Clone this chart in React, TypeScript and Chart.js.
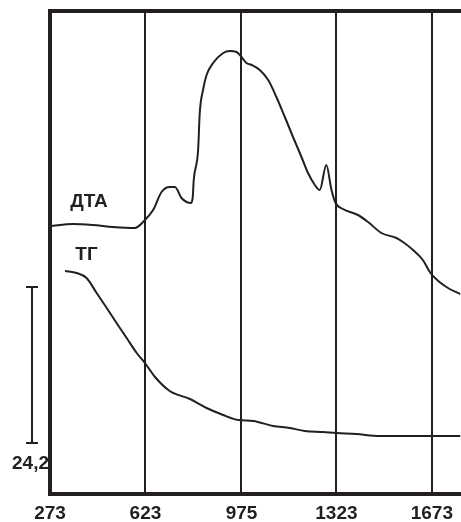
import React, { useEffect, useRef } from "react";
import { Chart, registerables } from "chart.js";

Chart.register(...registerables);

const INK = "#231f20";
const FONT = "'Liberation Sans', Arial, sans-serif";

// Temperature axis (K)
const xTicks = [273, 623, 975, 1323, 1673];
const xMin = 273;
const xMax = 1778;

// DTA curve (relative units)
const dtaT = [273, 357, 430, 504, 584, 621, 651, 682, 712, 731, 755, 774, 789, 796, 800, 816, 822, 834, 847, 871, 908, 932, 957, 975, 993, 1012, 1042, 1073, 1103, 1134, 1164, 1195, 1219, 1244, 1262, 1286, 1305, 1320, 1347, 1402, 1439, 1488, 1543, 1567, 1604, 1640, 1668, 1701, 1738, 1778];
const dtaV = [268, 270, 269, 267, 266, 274, 284, 302, 307, 307, 296, 292, 291, 296, 314, 344, 381, 404, 419, 431, 441, 443, 442, 437, 431, 429, 424, 414, 397, 377, 357, 337, 321, 309, 304, 329, 304, 291, 285, 279, 272, 261, 256, 252, 244, 234, 221, 212, 205, 200];

// TG curve (relative units)
const tgT = [328, 371, 407, 444, 481, 517, 554, 591, 621, 658, 712, 786, 847, 908, 963, 1018, 1091, 1152, 1207, 1274, 1323, 1396, 1482, 1579, 1671, 1778];
const tgV = [223, 221, 216, 201, 186, 171, 156, 141, 131, 117, 103, 95, 86, 79, 74, 73, 68, 66, 63, 62, 61, 60, 58, 58, 58, 58];

const yMin = 0;
const yMax = 483;

// Scale bar for TG (24,2)
const scaleBarRange = [51, 207];
const scaleBarLabel = "24,2";

// Curve labels and their anchor (T, value)
const seriesNames = ["ДТА", "ТГ"];
const labelT = [416, 407];
const labelV = [292, 239];

const toPoints = (xs: number[], ys: number[]) => xs.map((x, i) => ({ x, y: ys[i] }));

const decor = {
  id: "decor",
  afterDraw(chart: any) {
    const { ctx, chartArea: a, scales } = chart;
    const ys = scales.y;
    const xs = scales.x;
    ctx.save();
    // frame: top, left, bottom
    ctx.strokeStyle = INK;
    ctx.lineWidth = 4;
    ctx.lineJoin = "miter";
    ctx.beginPath();
    ctx.moveTo(a.right + 5, a.top);
    ctx.lineTo(a.left, a.top);
    ctx.lineTo(a.left, a.bottom);
    ctx.lineTo(a.right + 5, a.bottom);
    ctx.stroke();

    // scale bar
    const bx = a.left - 18;
    const y1 = ys.getPixelForValue(scaleBarRange[1]);
    const y0 = ys.getPixelForValue(scaleBarRange[0]);
    ctx.lineWidth = 2;
    ctx.beginPath();
    ctx.moveTo(bx, y1);
    ctx.lineTo(bx, y0);
    ctx.moveTo(bx - 6, y1);
    ctx.lineTo(bx + 6, y1);
    ctx.moveTo(bx - 6, y0);
    ctx.lineTo(bx + 6, y0);
    ctx.stroke();

    ctx.fillStyle = INK;
    ctx.font = `bold 19px ${FONT}`;
    ctx.textAlign = "right";
    ctx.textBaseline = "middle";
    ctx.fillText(scaleBarLabel, a.left - 1, y0 + 21);

    ctx.textAlign = "center";
    seriesNames.forEach((name, i) => {
      ctx.fillText(name, xs.getPixelForValue(labelT[i]), ys.getPixelForValue(labelV[i]));
    });
    ctx.restore();
  },
};

export default function App() {
  const ref = useRef<HTMLCanvasElement | null>(null);
  useEffect(() => {
    if (!ref.current) return;
    const chart = new Chart(ref.current, {
      type: "line",
      data: {
        datasets: [
          {
            label: seriesNames[0],
            data: toPoints(dtaT, dtaV),
            borderColor: INK,
            borderWidth: 2,
            pointRadius: 0,
            cubicInterpolationMode: "monotone",
            fill: false,
          },
          {
            label: seriesNames[1],
            data: toPoints(tgT, tgV),
            borderColor: INK,
            borderWidth: 2,
            pointRadius: 0,
            cubicInterpolationMode: "monotone",
            fill: false,
          },
        ],
      },
      options: {
        animation: false,
        responsive: false,
        devicePixelRatio: 1,
        layout: { padding: { left: 50, top: 11, right: 0, bottom: 0 } },
        plugins: { legend: { display: false }, tooltip: { enabled: false } },
        scales: {
          x: {
            type: "linear",
            min: xMin,
            max: xMax,
            afterBuildTicks: (s: any) => {
              s.ticks = xTicks.map((v) => ({ value: v }));
            },
            afterFit: (s: any) => {
              s.height = 28;
            },
            grid: { color: INK, lineWidth: 2, drawTicks: false },
            border: { display: false },
            ticks: {
              color: INK,
              padding: 8,
              maxRotation: 0,
              autoSkip: false,
              font: { family: FONT, size: 19, weight: "bold" },
              callback: (v: any) => String(v),
            },
          },
          y: {
            display: false,
            min: yMin,
            max: yMax,
          },
        },
      },
      plugins: [decor],
    });
    return () => chart.destroy();
  }, []);
  return (
    <div style={{ position: "absolute", left: 0, top: 0, width: 461, height: 522, background: "#fff" }}>
      <canvas ref={ref} width={461} height={522} />
    </div>
  );
}
